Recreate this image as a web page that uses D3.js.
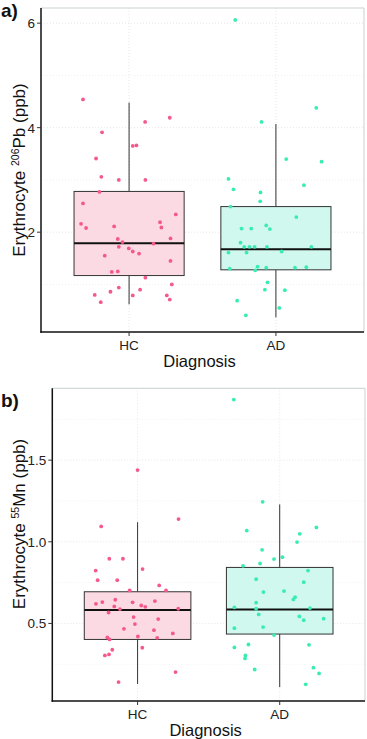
<!DOCTYPE html>
<html>
<head>
<meta charset="utf-8">
<script src="https://cdn.jsdelivr.net/npm/d3@7"></script>
<style>
  body { margin: 0; background: #fff; }
  svg { display: block; font-family: "Liberation Sans", Arial, sans-serif; }
</style>
</head>
<body>
<svg id="chart" width="367" height="739"></svg>
<script>
// categories
const groups = ["HC", "AD"];

// panel a: erythrocyte 206Pb (ppb)
const pbTicks = [2, 4, 6];
// box stats: [lower whisker, q1, median, q3, upper whisker]
const pbBoxHC = [0.62, 1.17, 1.79, 2.78, 4.48];
const pbBoxAD = [0.37, 1.28, 1.675, 2.49, 4.07];
const pbHC = [4.54, 4.19, 4.11, 3.91, 3.65, 3.66, 3.41, 3.06, 3.00, 3.00, 2.77, 2.55, 2.34, 2.16, 2.08, 2.11, 2.19, 2.09, 1.87, 1.81,
  1.78, 1.72, 1.88, 1.69, 1.63, 1.59, 1.55, 1.45, 1.24, 1.25, 1.13, 1.00, 0.94, 0.86, 0.80, 0.90, 0.79, 0.66, 0.79, 0.71];
const pbHCJitter = [-0.314, 0.277, 0.109, -0.184, 0.025, 0.05, -0.225, -0.189, -0.07, 0.111, -0.202, -0.314, 0.318, -0.327, -0.293, -0.102, 0.211, 0.22, -0.077, -0.045,
  0.166, -0.07, 0.282, -0.002, 0.025, 0.068, -0.166, 0.282, -0.118, -0.077, 0.111, 0.291, -0.07, -0.127, -0.234, 0.075, 0.025, -0.193, 0.257, 0.277];
const pbAD = [6.06, 4.38, 4.11, 3.40, 3.35, 3.02, 2.82, 2.90, 2.76, 2.59, 2.49, 2.29, 2.07, 2.07, 2.13, 2.06, 1.80, 1.72, 1.72, 1.72,
  1.72, 1.61, 1.61, 1.63, 1.72, 1.30, 1.27, 1.34, 1.32, 1.32, 1.33, 1.04, 0.90, 0.89, 0.69, 0.55, 0.41];
const pbADJitter = [-0.277, 0.275, -0.098, 0.07, 0.311, -0.323, -0.289, 0.191, -0.105, -0.107, -0.309, 0.139, -0.234, -0.168, -0.066, -0.041, -0.241, -0.216, -0.18, -0.145,
  -0.061, -0.323, -0.2, 0.039, 0.241, -0.314, -0.141, -0.125, -0.066, 0.13, 0.207, -0.057, -0.075, 0.061, -0.264, 0.023, -0.205];

// panel b: erythrocyte 55Mn (ppb)
const mnTicks = [0.5, 1.0, 1.5];
const mnBoxHC = [0.129, 0.402, 0.582, 0.694, 1.12];
const mnBoxAD = [0.110, 0.435, 0.586, 0.843, 1.229];
const mnHC = [1.439, 1.139, 1.094, 0.896, 0.896, 0.833, 0.824, 0.765, 0.765, 0.702, 0.733, 0.702, 0.620, 0.631, 0.645, 0.604, 0.588, 0.629, 0.610, 0.602,
  0.637, 0.590, 0.567, 0.539, 0.496, 0.467, 0.527, 0.459, 0.414, 0.402, 0.420, 0.412, 0.439, 0.351, 0.339, 0.304, 0.310, 0.202, 0.141];
const mnHCJitter = [0, 0.288, -0.256, -0.199, -0.103, 0.035, -0.295, -0.281, -0.143, -0.056, 0.152, 0.2, -0.293, -0.248, -0.157, -0.164, -0.124, -0.035, 0.026, 0.054,
  0.122, 0.286, -0.204, -0.028, -0.019, -0.096, 0.145, 0.115, -0.213, -0.197, 0.002, 0.138, 0.248, 0.033, -0.178, -0.23, -0.201, 0.267, -0.134];
const mnAD = [1.871, 1.245, 1.088, 1.069, 1.049, 0.998, 0.951, 0.906, 0.894, 0.867, 0.853, 0.824, 0.771, 0.753, 0.692, 0.698, 0.661, 0.647, 0.627, 0.598,
  0.594, 0.590, 0.555, 0.543, 0.520, 0.529, 0.471, 0.478, 0.429, 0.353, 0.371, 0.369, 0.304, 0.286, 0.218, 0.229, 0.194, 0.127];
const mnADJitter = [-0.323, -0.12, 0.258, -0.232, 0.141, 0.122, -0.124, 0.019, -0.04, -0.138, -0.258, 0.199, -0.166, 0.169, -0.115, 0.03, 0.108, 0.096, -0.166, -0.319,
  0.213, -0.166, -0.148, 0.138, 0.169, 0.309, -0.319, -0.117, -0.04, -0.319, -0.22, 0.206, -0.241, -0.244, -0.176, 0.237, 0.277, 0.183];

const fills = { HC: "#fcdae4", AD: "#d0f8ee" };
const dots = { HC: "#f5588c", AD: "#38ecb4" };

const svg = d3.select("#chart");

function drawPanel(cfg) {
  const g = svg.append("g");
  const x = d3.scaleLinear().domain([0.4, 2.6]).range([cfg.left, cfg.right]);
  const y = d3.scaleLinear().domain(cfg.yDomain).range([cfg.bottom, cfg.top]);

  // grid: minor then major, faint dotted
  g.selectAll(".minor").data(cfg.minor).enter().append("line")
    .attr("x1", cfg.left).attr("x2", cfg.right)
    .attr("y1", d => y(d)).attr("y2", d => y(d))
    .attr("stroke", "#f0f0ec").attr("stroke-dasharray", "1,2");
  g.selectAll(".major").data(cfg.ticks).enter().append("line")
    .attr("x1", cfg.left).attr("x2", cfg.right)
    .attr("y1", d => y(d)).attr("y2", d => y(d))
    .attr("stroke", "#e6e8e0").attr("stroke-dasharray", "1,2");
  g.selectAll(".vgrid").data(groups).enter().append("line")
    .attr("x1", (d, i) => x(i + 1)).attr("x2", (d, i) => x(i + 1))
    .attr("y1", cfg.top).attr("y2", cfg.bottom)
    .attr("stroke", "#e6e8e0").attr("stroke-dasharray", "1,2");

  // light panel border (top / right)
  g.append("path")
    .attr("d", `M${cfg.left},${cfg.top}H${cfg.right}V${cfg.bottom}`)
    .attr("fill", "none").attr("stroke", "#c9d3d0").attr("stroke-width", 1);

  // boxes
  groups.forEach((grp, i) => {
    const b = cfg.boxes[i];
    const cx = x(i + 1), hw = (x(1.375) - x(1));
    g.append("line").attr("x1", cx).attr("x2", cx)
      .attr("y1", y(b[3])).attr("y2", y(b[4])).attr("stroke", "#333").attr("stroke-width", 1);
    g.append("line").attr("x1", cx).attr("x2", cx)
      .attr("y1", y(b[1])).attr("y2", y(b[0])).attr("stroke", "#333").attr("stroke-width", 1);
    g.append("rect")
      .attr("x", cx - hw).attr("width", hw * 2)
      .attr("y", y(b[3])).attr("height", y(b[1]) - y(b[3]))
      .attr("fill", fills[grp]).attr("stroke", "#333").attr("stroke-width", 1);
    g.append("line").attr("x1", cx - hw).attr("x2", cx + hw)
      .attr("y1", y(b[2])).attr("y2", y(b[2])).attr("stroke", "#111").attr("stroke-width", 2);
  });

  // jittered points
  groups.forEach((grp, i) => {
    const vals = cfg.points[i], jit = cfg.jitter[i];
    g.selectAll(".pt-" + grp).data(vals).enter().append("circle")
      .attr("cx", (d, k) => x(i + 1 + jit[k]))
      .attr("cy", d => y(d))
      .attr("r", 1.9)
      .attr("fill", dots[grp]);
  });

  // axes lines
  g.append("line").attr("x1", cfg.left).attr("x2", cfg.left)
    .attr("y1", cfg.top).attr("y2", cfg.bottom + 0.75).attr("stroke", "#111").attr("stroke-width", 1.5);
  g.append("line").attr("x1", cfg.left - 0.75).attr("x2", cfg.right)
    .attr("y1", cfg.bottom).attr("y2", cfg.bottom).attr("stroke", "#111").attr("stroke-width", 1.5);

  // y ticks + labels
  cfg.ticks.forEach(t => {
    g.append("line").attr("x1", cfg.left - 4).attr("x2", cfg.left)
      .attr("y1", y(t)).attr("y2", y(t)).attr("stroke", "#333");
    g.append("text").attr("x", cfg.left - 6).attr("y", y(t)).attr("dy", "0.36em")
      .attr("text-anchor", "end").attr("font-size", 13.5).attr("fill", "#222")
      .text(cfg.tickFormat(t));
  });

  // x ticks + labels
  groups.forEach((grp, i) => {
    g.append("line").attr("x1", x(i + 1)).attr("x2", x(i + 1))
      .attr("y1", cfg.bottom).attr("y2", cfg.bottom + 4).attr("stroke", "#333");
    g.append("text").attr("x", x(i + 1)).attr("y", cfg.bottom + 18)
      .attr("text-anchor", "middle").attr("font-size", 13.5).attr("fill", "#222").text(grp);
  });

  // axis titles
  g.append("text").attr("x", (cfg.left + cfg.right) / 2 - 3).attr("y", cfg.bottom + 35)
    .attr("text-anchor", "middle").attr("font-size", 16.5).attr("fill", "#111").text("Diagnosis");

  const yt = g.append("text")
    .attr("transform", `translate(${cfg.titleX},${cfg.titleY}) rotate(-90)`)
    .attr("text-anchor", "middle").attr("font-size", 17).attr("fill", "#111");
  yt.append("tspan").text("Erythrocyte ");
  yt.append("tspan").attr("font-size", 10.5).attr("dy", -6.5).text(cfg.isotope);
  yt.append("tspan").attr("dy", 6.5).text(cfg.element + " (ppb)");

  // panel letter
  svg.append("text").attr("x", 1).attr("y", cfg.letterY)
    .attr("font-size", 19).attr("font-weight", "bold").attr("fill", "#111").text(cfg.letter);
}

drawPanel({
  left: 41, right: 364, top: 8, bottom: 332,
  yDomain: [0.09, 6.29], ticks: pbTicks, minor: [1, 3, 5],
  tickFormat: d3.format("d"),
  boxes: [pbBoxHC, pbBoxAD], points: [pbHC, pbAD], jitter: [pbHCJitter, pbADJitter],
  titleX: 25, titleY: 170, isotope: "206", element: "Pb",
  letter: "a)", letterY: 17
});

drawPanel({
  left: 52.3, right: 365, top: 388.3, bottom: 701,
  yDomain: [0.025, 1.94], ticks: mnTicks, minor: [0.25, 0.75, 1.25, 1.75],
  tickFormat: d3.format(".1f"),
  boxes: [mnBoxHC, mnBoxAD], points: [mnHC, mnAD], jitter: [mnHCJitter, mnADJitter],
  titleX: 25, titleY: 524, isotope: "55", element: "Mn",
  letter: "b)", letterY: 407
});
</script>
</body>
</html>
